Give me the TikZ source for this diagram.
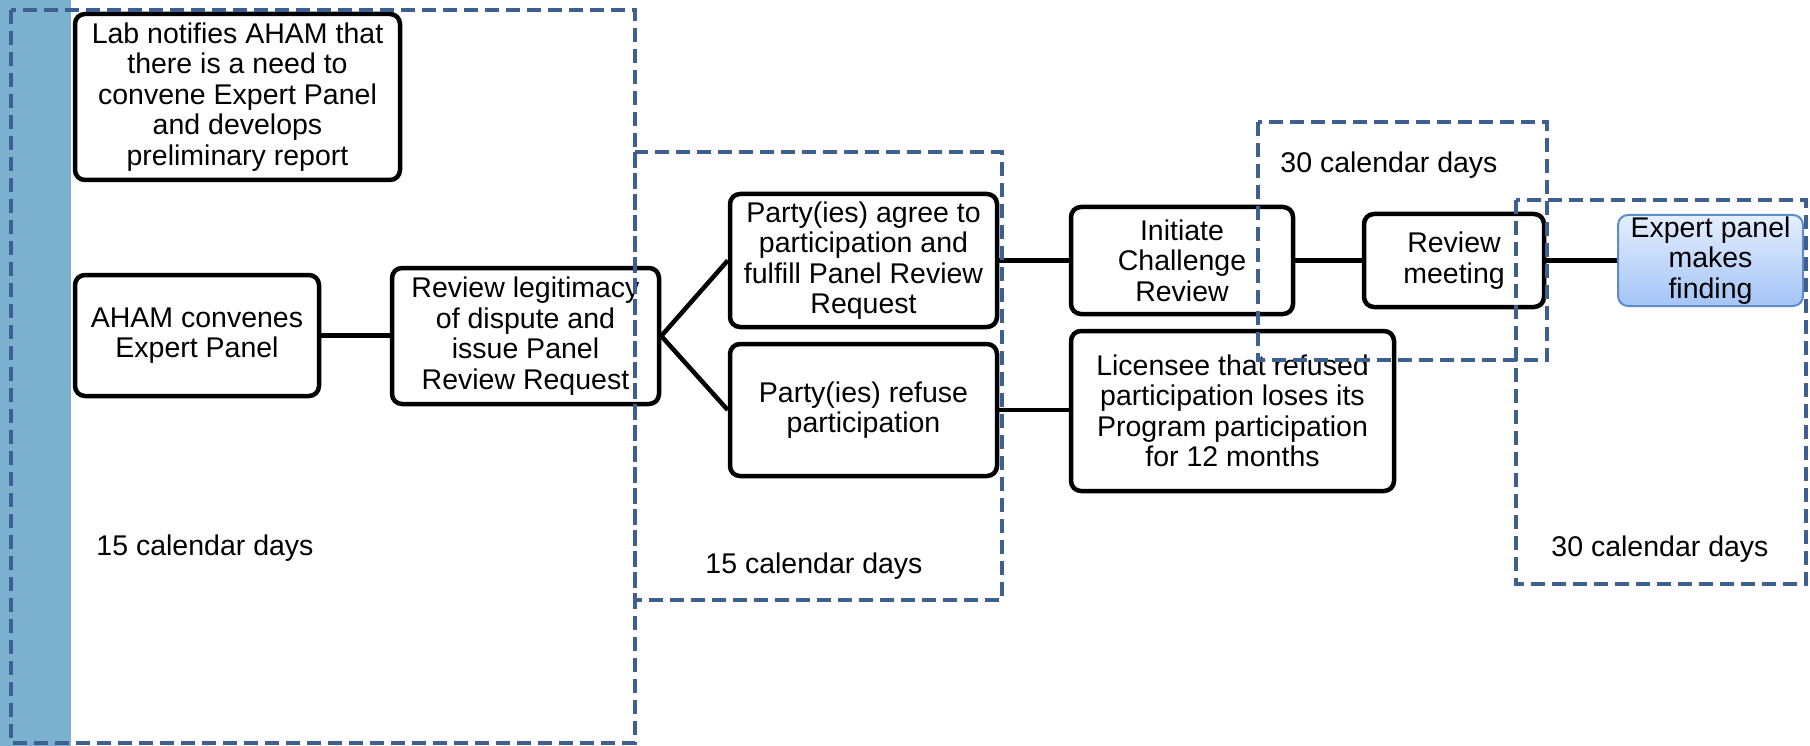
\documentclass[tikz,border=0pt]{standalone}
\usepackage{fontspec}
\setmainfont{Liberation Sans}
\begin{document}
\begin{tikzpicture}[x=1pt,y=-1pt,
  box/.style={draw=black,line width=4.5pt,rounded corners=10pt,fill=white,align=center,inner sep=0pt,
    font=\fontsize{28.5}{30.5}\selectfont},
  lbl/.style={font=\fontsize{28.5}{30.5}\selectfont,inner sep=0pt},
  conn/.style={line width=4.5pt,draw=black},
  period/.style={draw=dashblue,line width=4.5pt,dash pattern=on 14pt off 7pt},
  final/.style={draw=finalborder,line width=2pt,rounded corners=10pt,top color=finaltop,bottom color=finalbot,
    align=center,inner sep=0pt,font=\fontsize{28.5}{30.5}\selectfont}]
\definecolor{dashblue}{HTML}{3D6090}
\definecolor{barblue}{HTML}{7BB0CE}
\definecolor{finalborder}{HTML}{5B8CCC}
\definecolor{finaltop}{HTML}{E4EEFF}
\definecolor{finalbot}{HTML}{A4C4F6}
\useasboundingbox (0,0) rectangle (1810,746);
\fill[barblue] (0,0) rectangle (71,746);

\node[box,minimum width=325pt,minimum height=166pt] (lab) at (237.5,97) {Lab notifies AHAM that\\there is a need to\\convene Expert Panel\\and develops\\preliminary report};
\node[box,minimum width=244pt,minimum height=121pt] (aham) at (197,335.5) {AHAM convenes\\Expert Panel};
\node[box,minimum width=267pt,minimum height=136pt] (legit) at (525.5,336) {Review legitimacy\\of dispute and\\issue Panel\\Review Request};
\node[box,minimum width=267pt,minimum height=133pt] (agree) at (863.5,260.5) {Party(ies) agree to\\participation and\\fulfill Panel Review\\Request};
\node[box,minimum width=267pt,minimum height=132pt] (refuse) at (863.5,410) {Party(ies) refuse\\participation};
\node[box,minimum width=222pt,minimum height=107pt] (init) at (1182,260.5) {Initiate\\Challenge\\Review};
\node[box,minimum width=323pt,minimum height=160pt] (lic) at (1232.5,411) {Licensee that refused\\participation loses its\\Program participation\\for 12 months};
\node[box,minimum width=180pt,minimum height=93pt] (meet) at (1454,260.5) {Review\\meeting};
\node[final,minimum width=185pt,minimum height=91pt] (expert) at (1710.5,260.5) {Expert panel\\makes\\finding};

\draw[conn] (aham.east) -- (aham.east -| legit.west);
\coordinate (split) at (legit.east);
\draw[conn] (split) -- (agree.west);
\draw[conn] (split) -- (refuse.west);
\draw[conn] (agree.east) -- (init.west);
\draw[conn] (refuse.east) -- (refuse.east -| lic.west);
\draw[conn] (init.east) -- (meet.west);
\draw[conn] (meet.east) -- (expert.west);

\node[lbl] (t1) at (205,548) {15 calendar days};
\node[lbl] (t2) at (814,566) {15 calendar days};
\node[lbl] (t3) at (1389,165) {30 calendar days};
\node[lbl] (t4) at (1660,549) {30 calendar days};

\draw[period] (11,10) rectangle (635,743);
\draw[period] (635,152) rectangle (1002,600);
\draw[period] (1258,122) rectangle (1547,360);
\draw[period] (1516,200) rectangle (1806,584);
\end{tikzpicture}
\end{document}
